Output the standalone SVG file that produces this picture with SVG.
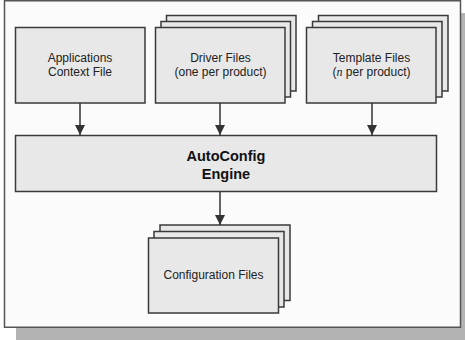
<svg xmlns="http://www.w3.org/2000/svg" width="465" height="340" viewBox="0 0 465 340">
<style>
.box{fill:#e8e8e8;stroke:#3a3a3a;stroke-width:1.5}
.t{font-family:"Liberation Sans",Arial,sans-serif;font-size:12px;fill:#222;text-anchor:middle}
.b{font-family:"Liberation Sans",Arial,sans-serif;font-size:14.5px;font-weight:bold;fill:#111;text-anchor:middle}
.c{stroke:#333;stroke-width:1.5;fill:none}
</style>
<defs>
<marker id="ah" markerWidth="10" markerHeight="10" refX="10" refY="5" orient="auto" markerUnits="userSpaceOnUse" viewBox="0 0 10 10">
<path d="M0,0 L10,5 L0,10 Z" fill="#333"/>
</marker>
</defs>
<rect x="0" y="0" width="465" height="340" fill="#ffffff"/>
<rect x="16" y="13" width="456" height="330" fill="#b3b3b3"/>
<rect x="4.5" y="0.75" width="456" height="326.5" fill="#fbfbfb" stroke="#555" stroke-width="1.5"/>
<g id="apps">
<rect class="box" x="15.5" y="27.5" width="129.5" height="75.5"/>
<text class="t" x="80" y="62">Applications</text>
<text class="t" x="80" y="76">Context File</text>
</g>
<g id="driver">
<rect class="box" x="166.5" y="15.5" width="129.5" height="75.5"/>
<rect class="box" x="161" y="21.5" width="129.5" height="75.5"/>
<rect class="box" x="155.5" y="27.5" width="129.5" height="75.5"/>
<text class="t" x="220.5" y="62">Driver Files</text>
<text class="t" x="220.5" y="76">(one per product)</text>
</g>
<g id="template">
<rect class="box" x="318.5" y="15.5" width="129.5" height="75.5"/>
<rect class="box" x="312.5" y="21.5" width="129.5" height="75.5"/>
<rect class="box" x="306.5" y="27.5" width="129.5" height="75.5"/>
<text class="t" x="371.5" y="62">Template Files</text>
<text class="t" x="371.5" y="76">(<tspan font-family="Liberation Serif,serif" font-style="italic">n</tspan> per product)</text>
</g>
<g id="engine">
<rect class="box" x="15.5" y="135.5" width="421" height="56"/>
<text class="b" x="226" y="160.5">AutoConfig</text>
<text class="b" x="226" y="179">Engine</text>
</g>
<g id="config">
<rect class="box" x="160" y="225" width="130" height="75.5"/>
<rect class="box" x="154" y="231.5" width="130" height="75.5"/>
<rect class="box" x="148.5" y="238" width="130" height="75"/>
<text class="t" x="213.5" y="279">Configuration Files</text>
</g>
<g id="connectors">
<line class="c" x1="80" y1="103" x2="80" y2="135" marker-end="url(#ah)"/>
<line class="c" x1="220" y1="103" x2="220" y2="135" marker-end="url(#ah)"/>
<line class="c" x1="372" y1="103" x2="372" y2="135" marker-end="url(#ah)"/>
<line class="c" x1="220" y1="192" x2="220" y2="225" marker-end="url(#ah)"/>
</g>
</svg>
